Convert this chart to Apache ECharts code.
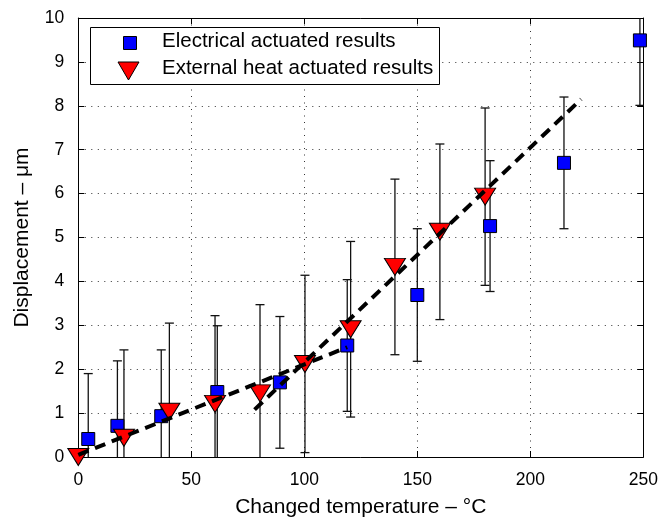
<!DOCTYPE html>
<html>
<head>
<meta charset="utf-8">
<script src="https://cdn.jsdelivr.net/npm/echarts@6/dist/echarts.min.js"></script>
<style>html,body{margin:0;padding:0;background:#fff}#c{width:664px;height:523px}</style>
</head>
<body>
<div id="c"></div>
<script>
// ---- data ----
const xTicks = [0, 50, 100, 150, 200, 250];
const yTicks = [0, 1, 2, 3, 4, 5, 6, 7, 8, 9, 10];

const elecX   = [4.4, 17.3, 36.7, 61.5, 89.2, 119.0, 150.0, 182.2, 214.9, 248.5];
const elecY   = [0.41, 0.71, 0.93, 1.48, 1.70, 2.54, 3.69, 5.26, 6.70, 9.49];
const elecErr = [1.49, 1.48, 1.51, 1.51, 1.50, 1.50, 1.51, 1.49, 1.50, 1.48];

const heatX   = [0, 20.2, 40.3, 60.5, 80.4, 100.3, 120.5, 140.1, 160.0, 180.0];
const heatY   = [0, 0.44, 1.03, 1.21, 1.45, 2.12, 2.91, 4.33, 5.13, 5.93];
const heatErr = [0, 2.00, 2.02, 2.01, 2.02, 2.02, 2.00, 2.00, 2.00, 2.02];

const fitLowX  = [0, 119];
const fitLowY  = [0.05, 2.5];
const fitHighX = [78, 222.5];
const fitHighY = [1.08, 8.15];

const seriesNames = ['Electrical actuated results', 'External heat actuated results'];
const xTitle = 'Changed temperature \u2013 \u00b0C';
const yTitle = 'Displacement \u2013 \u03bcm';

// ---- build ----
const FONT = '"Liberation Sans", Arial, Helvetica, sans-serif';
const zip = (a, b, c) => a.map((v, i) => c ? [v, b[i], c[i]] : [v, b[i]]);

function errRender(params, api) {
  const x = api.value(0), y = api.value(1), e = api.value(2);
  if (!(e > 0)) return null;
  const t = api.coord([x, y + e]);
  const b = api.coord([x, y - e]);
  const hw = 4.5;
  const st = { stroke: '#111', lineWidth: 1.3 };
  return {
    type: 'group',
    children: [
      { type: 'line', shape: { x1: t[0], y1: t[1], x2: b[0], y2: b[1] }, style: st },
      { type: 'line', shape: { x1: t[0] - hw, y1: t[1], x2: t[0] + hw, y2: t[1] }, style: st },
      { type: 'line', shape: { x1: b[0] - hw, y1: b[1], x2: b[0] + hw, y2: b[1] }, style: st }
    ]
  };
}

const axisCommon = {
  type: 'value',
  axisLine: { show: true, onZero: false, lineStyle: { color: '#000', width: 1 } },
  axisTick: { show: true, inside: true, length: 6, lineStyle: { color: '#000', width: 1 } },
  splitLine: { show: false }
};

const chart = echarts.init(document.getElementById('c'), null, { renderer: 'canvas' });
chart.setOption({
  animation: false,
  backgroundColor: '#fff',
  grid: { left: 78.3, right: 20.7, top: 18, bottom: 59, containLabel: false },
  xAxis: [
    Object.assign({}, axisCommon, {
      position: 'bottom', min: xTicks[0], max: xTicks[xTicks.length - 1], interval: xTicks[1] - xTicks[0],
      axisLabel: { show: true, margin: 14, color: '#000', fontSize: 17.5, fontFamily: FONT },
      splitLine: { show: true, lineStyle: { color: '#333', width: 1, type: [1, 5.5] } },
      name: xTitle, nameLocation: 'middle', nameGap: 40,
      nameTextStyle: { color: '#000', fontSize: 21, fontFamily: FONT }
    }),
    Object.assign({}, axisCommon, {
      position: 'top', min: xTicks[0], max: xTicks[xTicks.length - 1], interval: xTicks[1] - xTicks[0],
      axisLabel: { show: false }
    })
  ],
  yAxis: [
    Object.assign({}, axisCommon, {
      position: 'left', min: yTicks[0], max: yTicks[yTicks.length - 1], interval: yTicks[1] - yTicks[0],
      axisLabel: { show: true, margin: 14, color: '#000', fontSize: 17.5, fontFamily: FONT },
      splitLine: { show: true, lineStyle: { color: '#333', width: 1, type: [1, 5.5] } },
      name: yTitle, nameLocation: 'middle', nameGap: 46, nameRotate: 90,
      nameTextStyle: { color: '#000', fontSize: 21, fontFamily: FONT }
    }),
    Object.assign({}, axisCommon, {
      position: 'right', min: yTicks[0], max: yTicks[yTicks.length - 1], interval: yTicks[1] - yTicks[0],
      axisLabel: { show: false }
    })
  ],
  series: [
    {
      type: 'custom', name: seriesNames[0] + ' err', renderItem: errRender, clip: true,
      encode: { x: 0, y: [1] }, data: zip(elecX, elecY, elecErr), silent: true
    },
    {
      type: 'scatter', name: seriesNames[0], data: zip(elecX, elecY), symbol: 'rect', symbolSize: 13,
      clip: false,
      itemStyle: { color: '#0000ff', borderColor: '#000', borderWidth: 1, opacity: 1 }
    },
    {
      type: 'custom', name: seriesNames[1] + ' err', renderItem: errRender, clip: true,
      encode: { x: 0, y: [1] }, data: zip(heatX, heatY, heatErr), silent: true
    },
    {
      type: 'scatter', name: seriesNames[1], data: zip(heatX, heatY), symbol: 'triangle', symbolRotate: 180,
      symbolSize: [21, 17], clip: false,
      itemStyle: { color: '#ff0000', borderColor: '#000', borderWidth: 1, opacity: 1 }
    },
    {
      type: 'line', name: 'fit low', data: zip(fitLowX, fitLowY), showSymbol: false, symbol: 'none',
      lineStyle: { color: '#000', width: 4, type: [11, 7], cap: 'butt' }, z: 5
    },
    {
      type: 'line', name: 'fit high', data: zip(fitHighX, fitHighY), showSymbol: false, symbol: 'none',
      lineStyle: { color: '#000', width: 4, type: [11, 7], cap: 'butt' }, z: 5
    }
  ],
  graphic: [
    { type: 'rect', left: 90, top: 27, shape: { width: 349, height: 57 },
      style: { fill: '#fff', stroke: '#000', lineWidth: 1 }, z: 100 },
    { type: 'rect', shape: { x: 123.5, y: 36.5, width: 13, height: 13 },
      style: { fill: '#0000ff', stroke: '#000', lineWidth: 1 }, z: 101 },
    { type: 'polygon', shape: { points: [[118, 62], [139, 62], [128.5, 80]] },
      style: { fill: '#ff0000', stroke: '#000', lineWidth: 1 }, z: 101 },
    { type: 'text', left: 162, top: 31, style: { text: seriesNames[0], fontSize: 20.5, fontFamily: FONT, fill: '#000' }, z: 101 },
    { type: 'text', left: 162, top: 58, style: { text: seriesNames[1], fontSize: 20.5, fontFamily: FONT, fill: '#000' }, z: 101 }
  ]
});
</script>
</body>
</html>
